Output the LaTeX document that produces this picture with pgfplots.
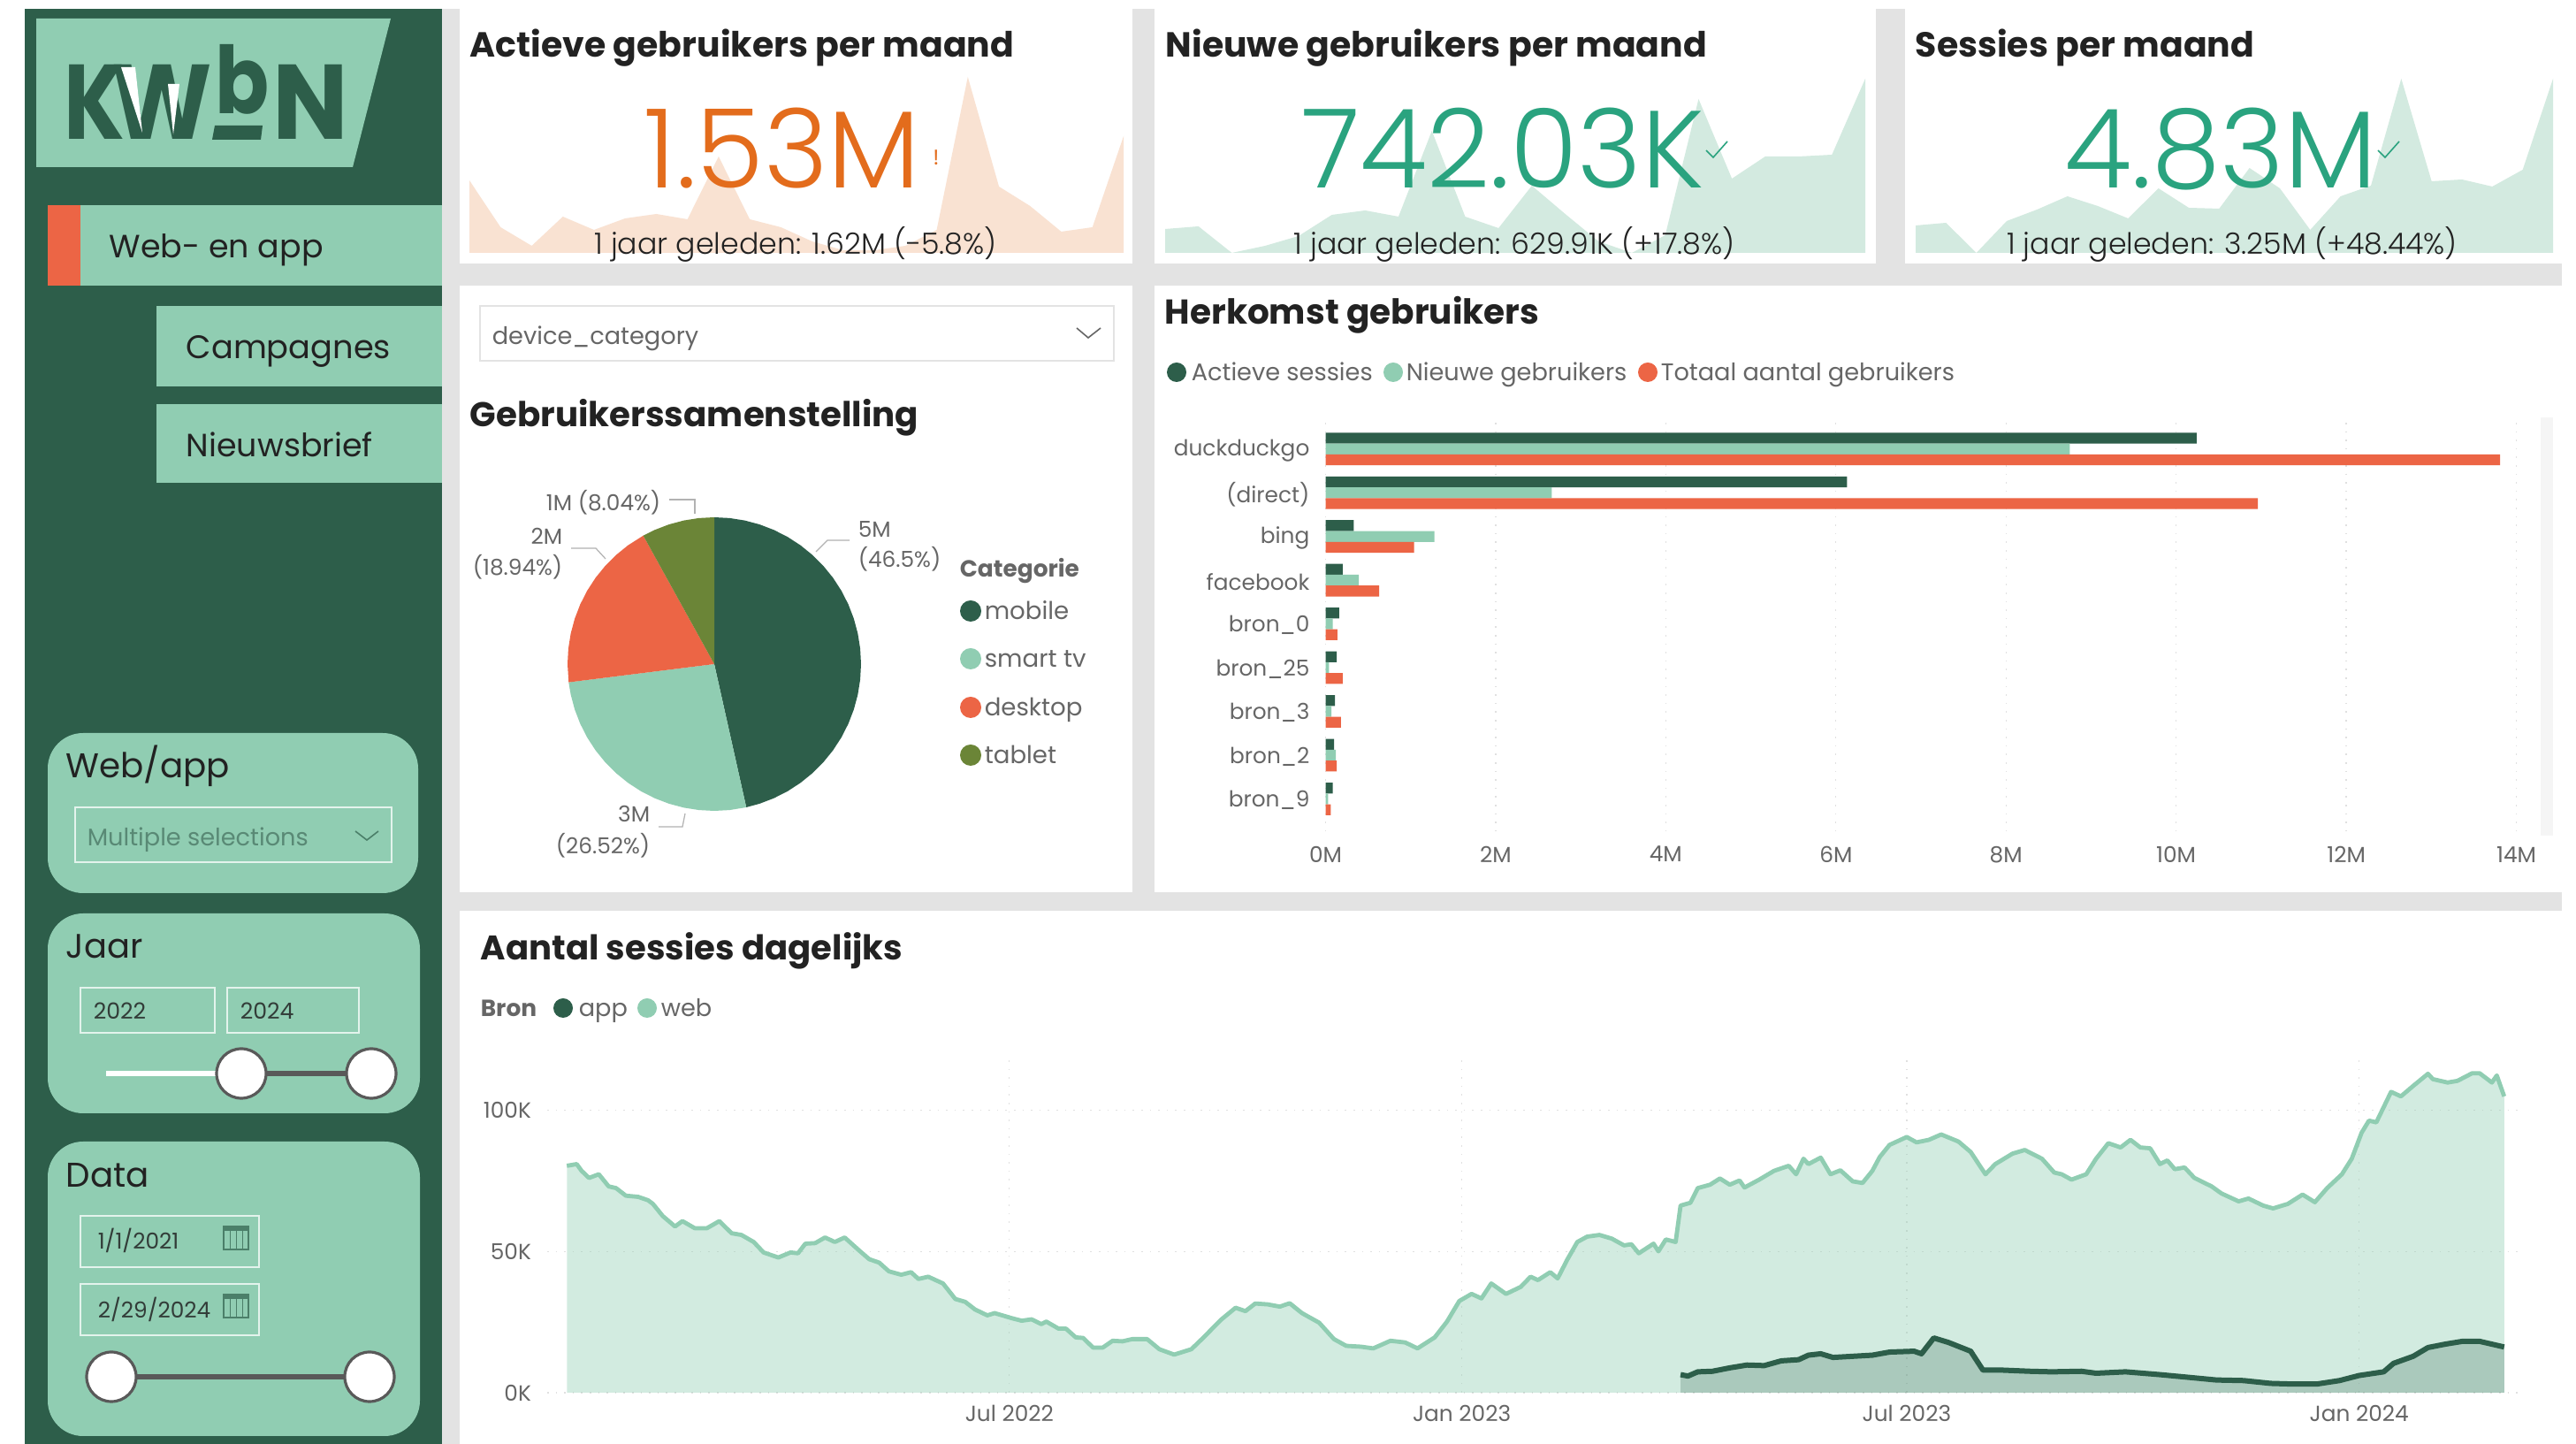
\documentclass[border=0pt]{standalone}
\usepackage{fontspec}
\setmainfont{Poppins}
\newfontfamily\plight{Poppins Light}
\usepackage{pgfplots}
\usepackage{pgfplotstable}
\pgfplotsset{compat=1.18}
\usepgfplotslibrary{polar}
\definecolor{dk}{HTML}{2D5E4A}
\definecolor{md}{HTML}{90CDB2}
\definecolor{rd}{HTML}{EC6545}
\definecolor{ol}{HTML}{6B8537}
\definecolor{gr}{HTML}{E3E3E3}
\definecolor{tx}{HTML}{222222}
\definecolor{lb}{HTML}{666666}
\definecolor{orng}{HTML}{E36C1C}
\definecolor{grn}{HTML}{2AA37F}
\definecolor{sor}{HTML}{F9E2D2}
\definecolor{sgr}{HTML}{D3EAE0}
\newcommand\f[1]{\fontsize{#1}{#1}\selectfont}

\pgfplotstableread{
d v
-180 80.4
-176 81.0
-174 78.6
-171 76.1
-167 77.4
-163 73.1
-160 72.5
-156 69.8
-151 69.4
-147 68.2
-145 66.9
-141 62.6
-136 58.9
-133 60.8
-128 58.3
-123 58.3
-118 60.8
-113 56.5
-109 55.9
-104 53.4
-100 49.7
-94 47.9
-89 49.7
-86 49.4
-83 52.8
-79 53.0
-75 55.0
-71 53.4
-67 55.0
-61 50.3
-57 47.3
-53 46.1
-49 43.0
-44 41.8
-40 42.7
-37 40.3
-33 41.1
-27 38.7
-22 33.2
-18 32.2
-14 29.5
-9 27.4
-6 28.2
1 26.4
5 25.5
9 26.0
13 24.3
15 25.2
20 22.7
23 22.7
27 19.6
30 19.4
34 16.0
38 16.0
42 18.4
46 18.2
50 19.0
56 19.0
61 15.4
67 13.5
74 15.4
79 19.6
86 25.8
92 30.1
96 28.9
100 31.6
105 31.3
110 30.5
114 31.7
119 28.2
126 24.8
132 19.0
137 16.6
143 16.3
148 15.7
155 18.4
161 17.8
166 15.7
173 19.6
178 25.2
183 32.5
188 35.0
192 33.4
196 38.7
202 35.0
208 37.5
212 41.1
215 39.9
220 42.7
223 40.5
227 47.3
231 53.4
235 55.3
240 55.9
245 54.6
250 52.2
253 52.6
256 49.4
262 52.8
264 50.1
267 54.3
271 53.4
273 66.3
277 67.3
280 72.5
285 73.7
289 75.9
293 73.7
297 75.2
299 72.7
305 75.5
311 78.6
317 80.4
320 77.4
323 82.9
325 81.0
330 83.3
334 77.4
338 78.8
343 74.9
347 74.3
351 78.6
354 83.5
358 87.8
365 90.6
369 88.7
374 89.6
379 91.5
386 89.0
391 85.3
397 77.4
401 81.0
408 84.7
413 86.0
420 82.9
425 78.0
428 77.4
432 75.5
438 77.4
442 82.9
447 88.4
452 86.9
456 89.6
460 86.9
464 86.6
468 81.0
471 82.3
474 79.2
478 79.8
482 76.1
489 73.1
493 70.6
500 67.8
504 68.8
510 66.3
514 65.3
520 66.9
526 70.2
531 67.5
536 72.5
542 77.4
546 82.9
550 92.1
553 96.4
556 95.8
562 106.6
566 105.0
571 108.7
577 113.0
579 111.1
585 109.9
589 110.5
595 113.2
598 113.2
603 109.9
605 112.4
608 105.0
}\web
\pgfplotstableread{
d v
273 6.4
276 5.9
280 7.4
286 7.6
293 8.8
300 9.8
307 9.6
314 11.3
321 11.7
325 13.3
330 13.8
335 12.5
343 12.9
351 13.3
358 14.4
368 14.7
371 13.8
376 19.4
382 17.8
391 14.7
396 8.0
404 8.0
415 7.6
424 7.4
436 7.6
442 6.9
454 7.4
468 6.4
479 5.5
491 4.5
502 4.3
513 3.3
521 3.1
532 3.1
541 4.3
549 6.1
559 7.4
563 10.4
571 12.9
577 16.0
584 17.2
591 18.2
598 18.2
608 16.2
}\app
\pgfplotstableread{
i v
0 82
1 29
2 8
3 41
4 26
5 39
6 44
7 38
8 109
9 38
10 29
11 13
12 3
13 3
14 8
15 26
16 199
17 75
18 53
19 24
20 29
21 132
}\sparkA
\pgfplotstableread{
i v
0 27
1 30
2 0
3 8
4 19
5 43
6 48
7 41
8 138
9 41
10 28
11 76
12 44
13 13
14 0
15 20
16 174
17 84
18 109
19 109
20 111
21 197
}\sparkB
\pgfplotstableread{
i v
0 31
1 34
2 0
3 36
4 49
5 64
6 53
7 39
8 73
9 51
10 50
11 96
12 73
13 26
14 64
15 76
16 197
17 81
18 83
19 75
20 94
21 197
}\sparkC
\pgfplotstableread{
c act new tot
0 10.24 8.75 13.81
1 6.13 2.66 10.96
2 0.33 1.28 1.04
3 0.20 0.39 0.63
4 0.16 0.085 0.14
5 0.13 0.04 0.20
6 0.11 0.07 0.18
7 0.10 0.12 0.13
8 0.085 0.03 0.06
}\bars

\tikzset{px/.style={x=.25pt,y=-.25pt},
  tl/.style={inner sep=0,anchor=mid west},
  tr/.style={inner sep=0,anchor=mid east},
  tc/.style={inner sep=0,anchor=mid}}
\pgfplotsset{spark/.style={hide axis,scale only axis,anchor=south west,clip=false,
   xmin=0,xmax=21,ymin=0}}

\begin{document}
\begin{tikzpicture}
\useasboundingbox (0pt,0pt) rectangle (728.5pt,-408.25pt);
\begin{scope}[px]
\fill[white] (0,0) rectangle (2914,1633);
\fill[gr] (500,10) rectangle (2898,1633);
\fill[dk] (28,10) rectangle (500,1633);
% cards
\fill[white] (520,10) rectangle (1281,298);
\fill[white] (1306,10) rectangle (2122,298);
\fill[white] (2155,10) rectangle (2898,298);
\fill[white] (520,323) rectangle (1281,1009);
\fill[white] (1306,323) rectangle (2898,1009);
\fill[white] (520,1030) rectangle (2898,1633);
% logo
\fill[md] (41,21) -- (442,21) -- (399,189) -- (41,189) -- cycle;
\node[inner sep=0,anchor=base,text=dk,font={\bfseries\f{30}},xscale=.82] at (107,158) {K};
\node[inner sep=0,anchor=base,text=dk,font={\bfseries\f{30}},xscale=.9] at (183,158) {W};
\fill[white] (137,76) -- (153,76) -- (161,150) -- cycle;
\fill[white] (190,95) -- (203,95) -- (196,152) -- cycle;
\node[inner sep=0,anchor=base,text=dk,font={\bfseries\f{30}},xscale=.75,yscale=.88] at (274,129) {b};
\fill[dk] (243,142) -- (297,142) -- (295,158) -- (240,158) -- cycle;
\node[inner sep=0,anchor=base,text=dk,font={\bfseries\f{30}},xscale=.95] at (351,158) {N};
% tabs
\fill[rd] (54,232) rectangle (91,323);
\fill[md] (91,232) rectangle (500,323);
\fill[md] (177,346) rectangle (500,437);
\fill[md] (177,457) rectangle (500,546);
\node[tl,text=tx,font=\f{9.1}] at (123,281) {Web- en app};
\node[tl,text=tx,font=\f{9.2}] at (210,395) {Campagnes};
\node[tl,text=tx,font=\f{9.1}] at (210,506) {Nieuwsbrief};
% filter cards
\fill[md,rounded corners=10pt] (54,829) rectangle (473,1010);
\fill[md,rounded corners=10pt] (54,1033) rectangle (475,1259);
\fill[md,rounded corners=10pt] (54,1291) rectangle (475,1624);
\node[tl,text=tx,font=\f{9.7}] at (74,869) {Web/app};
\node[tl,text=tx,font=\f{9.6}] at (74,1073) {Jaar};
\node[tl,text=tx,font=\f{9.7}] at (74,1332) {Data};
\draw[white!75!md,line width=.6pt] (85,913) rectangle (443,975);
\node[tl,text=dk!60!md!90!gray,font=\f{6.8}] at (98,946) {Multiple selections};
\draw[dk!70!md,line width=.4pt] (402,940) -- (415,950) -- (428,940);
\draw[white!75!md,line width=.6pt] (91,1117) rectangle (243,1168);
\draw[white!75!md,line width=.6pt] (257,1117) rectangle (406,1168);
\node[tl,text=tx!85!md,font=\f{6.3}] at (105,1142) {2022};
\node[tl,text=tx!85!md,font=\f{6.3}] at (271,1142) {2024};
\draw[white,line width=1.6pt] (120,1214) -- (273,1214);
\draw[black!65,line width=1.6pt] (273,1214) -- (420,1214);
\draw[black!65,line width=.8pt,fill=white] (273,1214) circle (28);
\draw[black!65,line width=.8pt,fill=white] (420,1214) circle (28);
\draw[white!75!md,line width=.6pt] (91,1375) rectangle (293,1433);
\draw[white!75!md,line width=.6pt] (91,1452) rectangle (293,1510);
\node[tl,text=tx!85!md,font=\f{6.2}] at (110,1402) {1/1/2021};
\node[tl,text=tx!85!md,font=\f{6.2}] at (110,1480) {2/29/2024};
\foreach \yy in {1387,1464}{
  \draw[dk!70!md,line width=.4pt] (253,\yy) rectangle (281,\yy+26);
  \fill[dk!70!md] (253,\yy) rectangle (281,\yy+5);
  \draw[dk!70!md,line width=.2pt] (260,\yy+5) -- (260,\yy+26) (267,\yy+5) -- (267,\yy+26) (274,\yy+5) -- (274,\yy+26);
}
\draw[black!65,line width=1.6pt] (126,1557) -- (418,1557);
\draw[black!65,line width=.8pt,fill=white] (126,1557) circle (28);
\draw[black!65,line width=.8pt,fill=white] (418,1557) circle (28);
\end{scope}

% sparklines
\begin{axis}[spark,at={(132.75pt,-71.5pt)},width=185pt,height=49.75pt,ymax=199]
\addplot[fill=sor,draw=none] table[x=i,y=v] {\sparkA} \closedcycle;
\end{axis}
\begin{axis}[spark,at={(329.5pt,-71.5pt)},width=198pt,height=49.25pt,ymax=197]
\addplot[fill=sgr,draw=none] table[x=i,y=v] {\sparkB} \closedcycle;
\end{axis}
\begin{axis}[spark,at={(541.75pt,-71.5pt)},width=180.25pt,height=49.25pt,ymax=197]
\addplot[fill=sgr,draw=none] table[x=i,y=v] {\sparkC} \closedcycle;
\end{axis}

\begin{scope}[px]
\node[tl,text=tx,font={\bfseries\f{9.85}}] at (531,54) {Actieve gebruikers per maand};
\node[tl,text=tx,font={\bfseries\f{9.85}}] at (1318,54) {Nieuwe gebruikers per maand};
\node[tl,text=tx,font={\bfseries\f{9.85}}] at (2166,54) {Sessies per maand};
\node[tc,text=orng,font={\plight\f{31}}] at (885,202) {1.53M};
\node[tc,text=grn,font={\plight\f{31}}] at (1700,202) {742.03K};
\node[tc,text=grn,font={\plight\f{31}}] at (2512,202) {4.83M};
\node[tc,text=orng,font=\f{6}] at (1059,176) {!};
\draw[grn,line width=.4pt] (1930,170) -- (1938,178) -- (1954,160);
\draw[grn,line width=.4pt] (2690,170) -- (2698,178) -- (2714,160);
\node[tc,text=tx,font={\plight\f{8.3}}] at (900,277) {1 jaar geleden: 1.62M (-5.8\%)};
\node[tc,text=tx,font={\plight\f{8.3}}] at (1713,277) {1 jaar geleden: 629.91K (+17.8\%)};
\node[tc,text=tx,font={\plight\f{8.3}}] at (2525,277) {1 jaar geleden: 3.25M (+48.44\%)};
% pie panel
\draw[gr,line width=.4pt] (543,346) rectangle (1260,408);
\node[tl,text=lb,font=\f{6.8}] at (556,379) {device\_category};
\draw[lb,line width=.4pt] (1218,371) -- (1231,382) -- (1245,371);
\node[tl,text=tx,font={\bfseries\f{9.7}}] at (531,472) {Gebruikerssamenstelling};
\draw[black!30,line width=.3pt] (757,565) -- (786,565) -- (786,581);
\draw[black!30,line width=.3pt] (646,620) -- (674,620) -- (685,632);
\draw[black!30,line width=.3pt] (961,611) -- (936,611) -- (923,624);
\draw[black!30,line width=.3pt] (745,935) -- (772,935) -- (775,920);
\node[tr,text=lb,font=\f{6.2}] at (748,567) {1M (8.04\%)};
\node[tr,text=lb,font=\f{6.2}] at (637,605) {2M};
\node[tr,text=lb,font=\f{6.2}] at (637,640) {(18.94\%)};
\node[tl,text=lb,font=\f{6.2}] at (970,597) {5M};
\node[tl,text=lb,font=\f{6.2}] at (970,631) {(46.5\%)};
\node[tr,text=lb,font=\f{6.2}] at (736,919) {3M};
\node[tr,text=lb,font=\f{6.2}] at (736,955) {(26.52\%)};
\node[tl,text=lb,font={\bfseries\f{6.6}}] at (1085,642) {Categorie};
\fill[dk] (1098,691) circle (12); \node[tl,text=lb,font=\f{6.9}] at (1113,690) {mobile};
\fill[md] (1098,745) circle (12); \node[tl,text=lb,font=\f{6.9}] at (1113,744) {smart tv};
\fill[rd] (1098,800) circle (12); \node[tl,text=lb,font=\f{6.9}] at (1113,799) {desktop};
\fill[ol] (1098,854) circle (12); \node[tl,text=lb,font=\f{6.9}] at (1113,853) {tablet};
% bar panel head
\node[tl,text=tx,font={\bfseries\f{9.75}}] at (1317,356) {Herkomst gebruikers};
\fill[dk] (1331,421) circle (11); \node[tl,text=lb,font=\f{6.8}] at (1347,420) {Actieve sessies};
\fill[md] (1576,421) circle (11); \node[tl,text=lb,font=\f{6.8}] at (1590,420) {Nieuwe gebruikers};
\fill[rd] (1864,421) circle (11); \node[tl,text=lb,font=\f{6.8}] at (1878,420) {Totaal aantal gebruikers};
\fill[black!4] (2874,472) rectangle (2888,945);
% line panel head
\node[tl,text=tx,font={\bfseries\f{9.65}}] at (543,1075) {Aantal sessies dagelijks};
\node[tl,text=lb,font={\bfseries\f{6.6}}] at (543,1139) {Bron};
\fill[dk] (637,1140) circle (11); \node[tl,text=lb,font=\f{6.8}] at (654,1139) {app};
\fill[md] (732,1140) circle (11); \node[tl,text=lb,font=\f{6.8}] at (747,1139) {web};
\end{scope}

% pie
\begin{axis}[hide axis,scale only axis,anchor=south west,at={(160.5pt,-229.25pt)},
  width=83pt,height=83pt,xmin=-1,xmax=1,ymin=-1,ymax=1,clip=false]
\addplot[fill=dk,draw=none,data cs=polar] coordinates {(0,0)(90,1)(84,1)(78,1)(72,1)(66,1)(60,1)(54,1)(48,1)(42,1)(36,1)(30,1)(24,1)(18,1)(12,1)(6,1)(0,1)(-6,1)(-12,1)(-18,1)(-24,1)(-30,1)(-36,1)(-42,1)(-48,1)(-54,1)(-60,1)(-66,1)(-72,1)(-77.4,1)} -- cycle;
\addplot[fill=md,draw=none,data cs=polar] coordinates {(0,0)(-77.4,1)(-84,1)(-90,1)(-96,1)(-102,1)(-108,1)(-114,1)(-120,1)(-126,1)(-132,1)(-138,1)(-144,1)(-150,1)(-156,1)(-162,1)(-168,1)(-172.87,1)} -- cycle;
\addplot[fill=rd,draw=none,data cs=polar] coordinates {(0,0)(-172.87,1)(-180,1)(-186,1)(-192,1)(-198,1)(-204,1)(-210,1)(-216,1)(-222,1)(-228,1)(-234,1)(-241.05,1)} -- cycle;
\addplot[fill=ol,draw=none,data cs=polar] coordinates {(0,0)(-241.05,1)(-246,1)(-252,1)(-258,1)(-264,1)(-270,1)} -- cycle;
\end{axis}

% bars
\begin{axis}[scale only axis,anchor=south west,at={(374.875pt,-235.75pt)},width=336.75pt,height=116.25pt,
  xmin=0,xmax=14,ymin=-0.6,ymax=8.8,y dir=reverse,xbar,bar width=3.07pt,
  axis line style={draw=none},major tick length=0pt,
  xtick={0,2,4,6,8,10,12,14},xticklabels={0M,2M,4M,6M,8M,10M,12M,14M},
  ytick={0,...,8},yticklabels={duckduckgo,(direct),bing,facebook,bron\_0,bron\_25,bron\_3,bron\_2,bron\_9},
  xmajorgrids,grid style={dotted,black!12,line width=.3pt},
  tick label style={font=\f{6.2},text=lb},
  yticklabel style={xshift=-1pt,yshift=-.4pt},clip=false]
\addplot[fill=dk,draw=none,bar shift=3.07pt] table[x=act,y=c] {\bars};
\addplot[fill=md,draw=none,bar shift=0pt] table[x=new,y=c] {\bars};
\addplot[fill=rd,draw=none,bar shift=-3.07pt] table[x=tot,y=c] {\bars};
\end{axis}

% line
\begin{axis}[scale only axis,anchor=south west,at={(154.75pt,-393.75pt)},width=559pt,height=95.75pt,
  xmin=-188,xmax=616,ymin=0,ymax=120,
  axis line style={draw=none},major tick length=0pt,
  xtick={0,184,365,549},xticklabels={Jul 2022,Jan 2023,Jul 2023,Jan 2024},
  ytick={0,50,100},yticklabels={0K,50K,100K},
  grid=major,grid style={dotted,black!12,line width=.3pt},
  tick label style={font=\f{6.2},text=lb},
  yticklabel style={xshift=-1pt},clip=false]
\addplot[fill=md,fill opacity=.4,draw=none] table[x=d,y=v] {\web} \closedcycle;
\addplot[fill=dk,fill opacity=.24,draw=none] table[x=d,y=v] {\app} \closedcycle;
\addplot[md,line width=1.2pt,line join=round] table[x=d,y=v] {\web};
\addplot[dk,line width=1.5pt,line join=round] table[x=d,y=v] {\app};
\end{axis}
\end{tikzpicture}
\end{document}
